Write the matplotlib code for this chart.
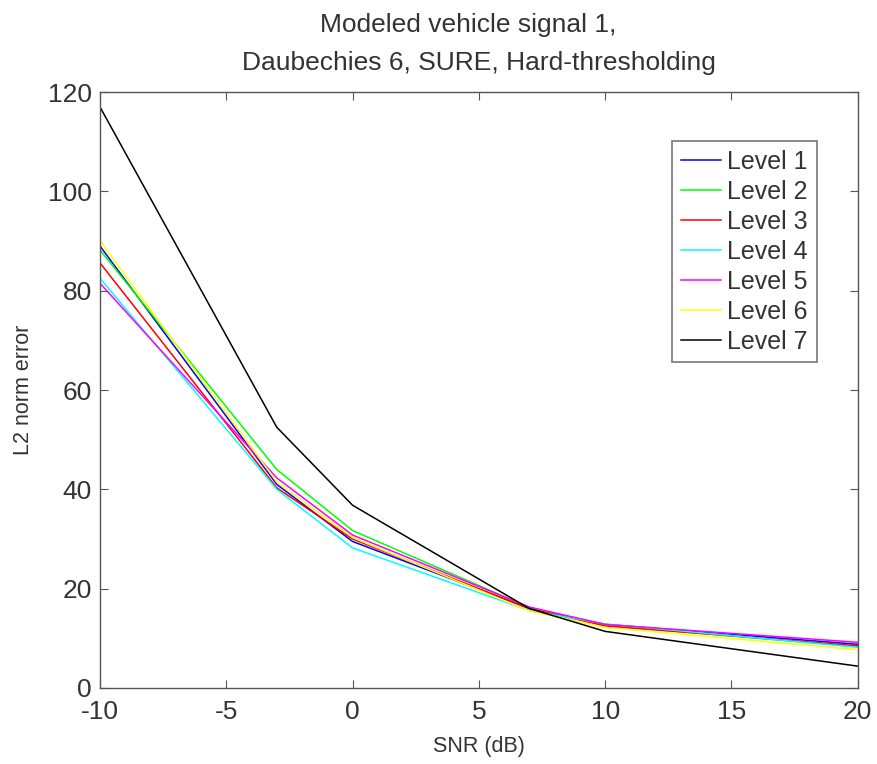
import matplotlib
matplotlib.use("Agg")
import matplotlib.pyplot as plt

plt.rcParams['font.family'] = ['Liberation Sans', 'DejaVu Sans']
plt.rcParams['axes.unicode_minus'] = False

# ── Data ─────────────────────────────────────────────────────────
snr = [-10, -3, 0, 7, 10, 20]
level_labels = ["Level 1", "Level 2", "Level 3", "Level 4", "Level 5", "Level 6", "Level 7"]
level_1 = [89.0, 41.0, 29.5, 16.0, 12.8, 8.8]
level_2 = [88.2, 44.0, 31.7, 16.2, 12.6, 8.3]
level_3 = [85.6, 40.3, 30.0, 16.0, 12.5, 8.5]
level_4 = [82.5, 40.0, 28.2, 15.6, 12.9, 8.2]
level_5 = [81.5, 42.3, 30.8, 16.3, 12.8, 9.2]
level_6 = [90.0, 41.5, 30.3, 15.5, 12.2, 7.7]
level_7 = [117.0, 52.5, 36.8, 16.0, 11.4, 4.4]
levels = [level_1, level_2, level_3, level_4, level_5, level_6, level_7]
colors = ["#0000ff", "#00ff00", "#ff0000", "#00ffff", "#ff00ff", "#ffff00", "#000000"]

# ── Figure ───────────────────────────────────────────────────────
fig = plt.figure(figsize=(8.77, 7.64), dpi=100)
ax = fig.add_axes([0.114, 0.0995, 0.864, 0.780])

for vals, lab, col in zip(levels, level_labels, colors):
    ax.plot(snr, vals, color=col, linewidth=1.1, label=lab)

ax.set_xlim(-10, 20)
ax.set_ylim(0, 120)
ax.set_xticks(range(-10, 21, 5))
ax.set_yticks(range(0, 121, 20))
ax.tick_params(direction="in", top=True, right=True, labelsize=19,
               length=6, color="#555555", labelcolor="#333333")
ax.tick_params(axis="x", pad=9)
ax.tick_params(axis="y", pad=6)
for sp in ax.spines.values():
    sp.set_color("#555555")
    sp.set_linewidth(1.0)

ax.set_xlabel("SNR (dB)", fontsize=15.5, labelpad=8, color="#333333")
ax.set_ylabel("L2 norm error", fontsize=15.5, labelpad=10, color="#333333")
ax.set_title("Modeled vehicle signal 1,   \nDaubechies 6, SURE, Hard-thresholding",
             fontsize=19, linespacing=1.75, pad=16, color="#333333")

leg = ax.legend(loc="upper right", bbox_to_anchor=(0.946, 0.918), fontsize=18,
                frameon=True, fancybox=False, handlelength=1.6, handletextpad=0.25,
                labelspacing=0.24, borderpad=0.35, borderaxespad=0)
leg.get_frame().set_edgecolor("#555555")
leg.get_frame().set_linewidth(1.2)
for t in leg.get_texts():
    t.set_color("#333333")

plt.savefig("out.png", dpi=100)
plt.close()
